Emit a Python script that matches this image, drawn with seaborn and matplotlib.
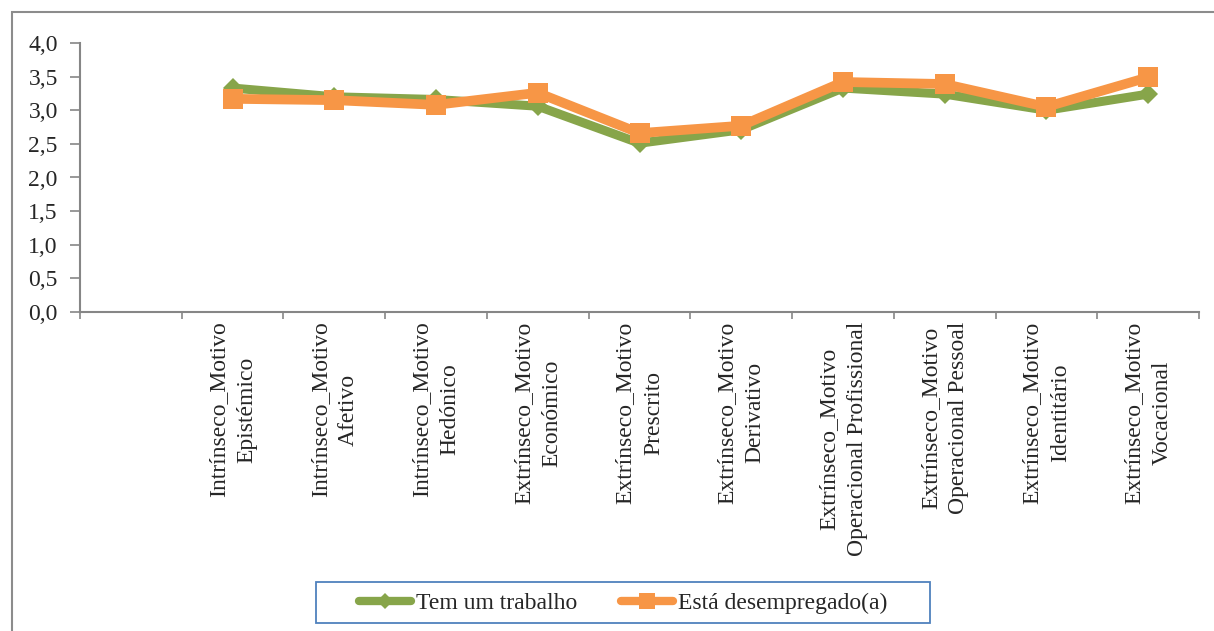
import matplotlib
matplotlib.use("Agg")
import matplotlib.pyplot as plt
from matplotlib.lines import Line2D
from matplotlib.patches import Rectangle
from matplotlib.ticker import FuncFormatter, FixedLocator
import numpy as np
import pandas as pd
import seaborn as sns

# Motive categories (the first slot on the axis is left empty)
categories = [
    "Intrínseco_Motivo\nEpistémico",
    "Intrínseco_Motivo\nAfetivo",
    "Intrínseco_Motivo\nHedónico",
    "Extrínseco_Motivo\nEconómico",
    "Extrínseco_Motivo\nPrescrito",
    "Extrínseco_Motivo\nDerivativo",
    "Extrínseco_Motivo\nOperacional Profissional",
    "Extrínseco_Motivo\nOperacional Pessoal",
    "Extrínseco_Motivo\nIdentitário",
    "Extrínseco_Motivo\nVocacional",
]
tem_trabalho = [3.33, 3.20, 3.16, 3.06, 2.51, 2.71, 3.33, 3.24, 3.00, 3.24]
desempregado = [3.17, 3.15, 3.08, 3.26, 2.66, 2.77, 3.42, 3.39, 3.05, 3.49]
series_names = ["Tem um trabalho", "Está desempregado(a)"]
y_ticks = [0.0, 0.5, 1.0, 1.5, 2.0, 2.5, 3.0, 3.5, 4.0]

GREEN = "#87A54A"
ORANGE = "#F79646"
AXIS_GREY = "#868686"
FS = 17

sns.set_theme(style="white")
plt.rcParams["font.family"] = ["Liberation Serif", "DejaVu Serif"]

W, H = 1214, 631
fig = plt.figure(figsize=(W / 100, H / 100), dpi=100)
ax = fig.add_axes([80 / W, 1 - 312 / H, (1199 - 80) / W, (312 - 43) / H])

df = pd.DataFrame({
    "motivo": categories * 2,
    "media": tem_trabalho + desempregado,
    "grupo": [series_names[0]] * len(categories) + [series_names[1]] * len(categories),
})
order = [""] + categories

sns.pointplot(data=df[df["grupo"] == series_names[0]], x="motivo", y="media",
              order=order, color=GREEN, markers="D", errorbar=None, ax=ax,
              linewidth=6.5, markersize=10, markeredgewidth=0, zorder=3)
sns.pointplot(data=df[df["grupo"] == series_names[1]], x="motivo", y="media",
              order=order, color=ORANGE, markers="s", errorbar=None, ax=ax,
              linewidth=7, markersize=14, markeredgewidth=0, zorder=4)

ax.set_xlim(-0.5, len(order) - 0.5)
ax.set_ylim(0, 4)
ax.set_yticks(y_ticks)
ax.yaxis.set_major_formatter(FuncFormatter(lambda v, _: f"{v:.1f}".replace(".", ",")))
ax.set_xlabel("")
ax.set_ylabel("")

ax.set_xticks(range(len(order)))
ax.set_xticklabels(order, rotation=90, ha="center", va="top",
                   multialignment="center", fontsize=FS, linespacing=1.45)
ax.xaxis.set_minor_locator(FixedLocator(np.arange(-0.5, len(order), 1.0)))
ax.tick_params(axis="x", which="major", length=0, pad=7)
ax.tick_params(axis="x", which="minor", length=5, width=1.2, color=AXIS_GREY,
               direction="out", bottom=True)
ax.tick_params(axis="y", which="major", length=7, width=1.2, color=AXIS_GREY,
               direction="out", left=True, pad=9, labelsize=FS)

for side in ("top", "right"):
    ax.spines[side].set_visible(False)
for side in ("left", "bottom"):
    ax.spines[side].set_color(AXIS_GREY)
    ax.spines[side].set_linewidth(1.5)

# Legend: entries placed without their own frame, box drawn separately
handles = [
    Line2D([], [], color=GREEN, lw=6, marker="D", markersize=8,
           markeredgewidth=0, solid_capstyle="round"),
    Line2D([], [], color=ORANGE, lw=6, marker="s", markersize=11,
           markeredgewidth=0, solid_capstyle="round"),
]
leg = fig.legend(handles, series_names, loc="center left", ncol=2,
                 bbox_to_anchor=(359 / W, 1 - 603 / H), fontsize=FS,
                 frameon=False, borderpad=0, borderaxespad=0,
                 handlelength=2.2, handletextpad=0.22, columnspacing=1.85)
fig.patches.append(Rectangle((316 / W, 1 - 623 / H), (930 - 316) / W, (623 - 582) / H,
                             transform=fig.transFigure, fill=False,
                             edgecolor="#4F81BD", linewidth=1.3))

# Chart-area border
fig.patches.append(Rectangle((12 / W, -0.1), 1.2, 1.1 - 12 / H,
                             transform=fig.transFigure, fill=False,
                             edgecolor="#8C8C8C", linewidth=1.5))

fig.savefig("out.png", dpi=100)
